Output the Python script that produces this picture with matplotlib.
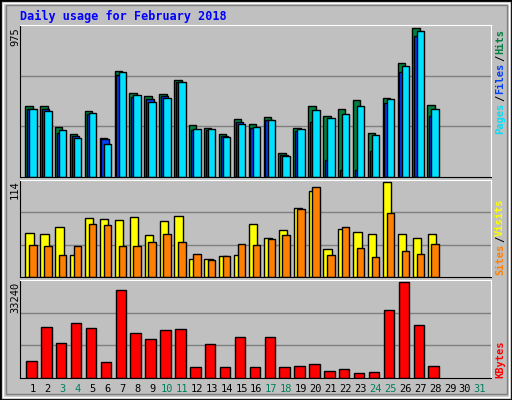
import matplotlib
matplotlib.use("Agg")
import matplotlib.pyplot as plt
from matplotlib.patches import Rectangle
import numpy as np

days = list(range(1, 32))
weekend = [3, 4, 10, 11, 17, 18, 24, 25, 31]
hits = [465, 465, 326, 280, 432, 254, 693, 551, 532, 545, 633, 340, 320, 280, 379, 346, 393, 154, 320, 465, 399, 446, 505, 287, 518, 743, 975, 472]
files = [445, 445, 287, 267, 412, 247, 667, 525, 511, 531, 620, 307, 307, 267, 360, 320, 373, 141, 300, 360, 108, 49, 49, 168, 485, 684, 922, 400]
pages = [445, 432, 307, 254, 419, 215, 684, 538, 492, 518, 624, 314, 314, 261, 346, 326, 373, 135, 314, 439, 386, 412, 465, 274, 511, 723, 955, 445]
visits = [53, 51, 60, 26, 71, 69, 68, 72, 50, 67, 73, 21, 21, 25, 26, 63, 47, 56, 83, 103, 33, 58, 54, 52, 114, 51, 47, 52]
sites = [38, 37, 26, 37, 64, 62, 37, 37, 42, 52, 42, 28, 20, 25, 40, 38, 45, 50, 82, 108, 26, 60, 35, 24, 77, 31, 27, 40]
kbytes = [5580, 17580, 12130, 19040, 17220, 5220, 30330, 15400, 13230, 16500, 16860, 3760, 11520, 3760, 13950, 3760, 13950, 3760, 4120, 4850, 2300, 3030, 1580, 1940, 23530, 33240, 18320, 4120]

W, H = 512, 400
fig = plt.figure(figsize=(W/100, H/100), dpi=100, facecolor='#c0c0c0')
fig.patches.append(Rectangle((0, 0), 1, 1, transform=fig.transFigure, fill=False, ec='black', lw=2))
fig.patches.append(Rectangle((3/W, 3/H), 1-6/W, 1-6/H, transform=fig.transFigure, fill=False, ec='white', lw=1))
fig.patches.append(Rectangle((6/W, 6/H), 1-11/W, 1-11/H, transform=fig.transFigure, fill=False, ec='#808080', lw=1))

def ax_px(x0, y0, x1, y1):
    return fig.add_axes([x0/W, 1-y1/H, (x1-x0)/W, (y1-y0)/H])

XL = (0.133, 31.73)
def style(ax, ymax, ngrid=3):
    ax.set_facecolor('#c0c0c0')
    ax.set_xlim(*XL)
    ax.set_ylim(0, ymax*1.02)
    ax.set_xticks([]); ax.set_yticks([])
    for s in ['top', 'right']:
        ax.spines[s].set_color('white')
    for s in ['left', 'bottom']:
        ax.spines[s].set_color('black')
    for k in range(1, ngrid):
        ax.axhline(ymax*1.02*k/ngrid, color='#808080', lw=1, zorder=0)

n = len(hits)
d = np.arange(1, n+1)
ax1 = ax_px(20, 25, 490.7, 177)
style(ax1, 975)
kw = dict(ec='black', lw=1, zorder=2)
ax1.bar(d-0.27, hits, width=0.5, color='#008040', **kw)
ax1.bar(d-0.15, files, width=0.5, color='#0040ff', **kw)
ax1.bar(d, pages, width=0.5, color='#00e0ff', **kw)

ax2 = ax_px(20, 180, 490.7, 277)
style(ax2, 114)
ax2.bar(d-0.22, visits, width=0.56, color='#ffff00', **kw)
ax2.bar(d, sites, width=0.5, color='#ff8000', **kw)

ax3 = ax_px(20, 280, 490.7, 377.5)
style(ax3, 33240)
ax3.bar(d-0.1, kbytes, width=0.7, color='#ff0000', **kw)

mono = 'DejaVu Sans Mono'
fig.text(20/W, 1-16/H, 'Daily usage for February 2018', color='#0000ff', family=mono,
         weight='bold', fontsize=8.5, va='center', ha='left')

for day in days:
    x = 20 + (day - XL[0]) * (470.7 / (XL[1]-XL[0]))
    fig.text(x/W, 1-389/H, str(day), family=mono, fontsize=7.5, ha='center', va='center',
             color='#00805c' if day in weekend else 'black')

for lab, ytop in [('975', 27), ('114', 180), ('33240', 282)]:
    fig.text(15/W, 1-ytop/H, lab, rotation=90, family=mono, fontsize=7.5, ha='center', va='top')

def vlabel(parts, ytop):
    y = ytop
    for txt, col in parts:
        t = fig.text(500/W, 1-y/H, txt, rotation=90, family=mono, fontsize=7.5,
                     color=col, ha='center', va='top', weight='bold')
        y += len(txt) * 6.0 + 2

vlabel([('Hits', '#008040'), ('/', '#000000'), ('Files', '#0040ff'), ('/', '#000000'), ('Pages', '#00e0ff')], 29)
vlabel([('Visits', '#ffff00'), ('/', '#000000'), ('Sites', '#ff8000')], 198)
vlabel([('KBytes', '#ff0000')], 340)

fig.savefig('out.png', dpi=100, facecolor=fig.get_facecolor())
